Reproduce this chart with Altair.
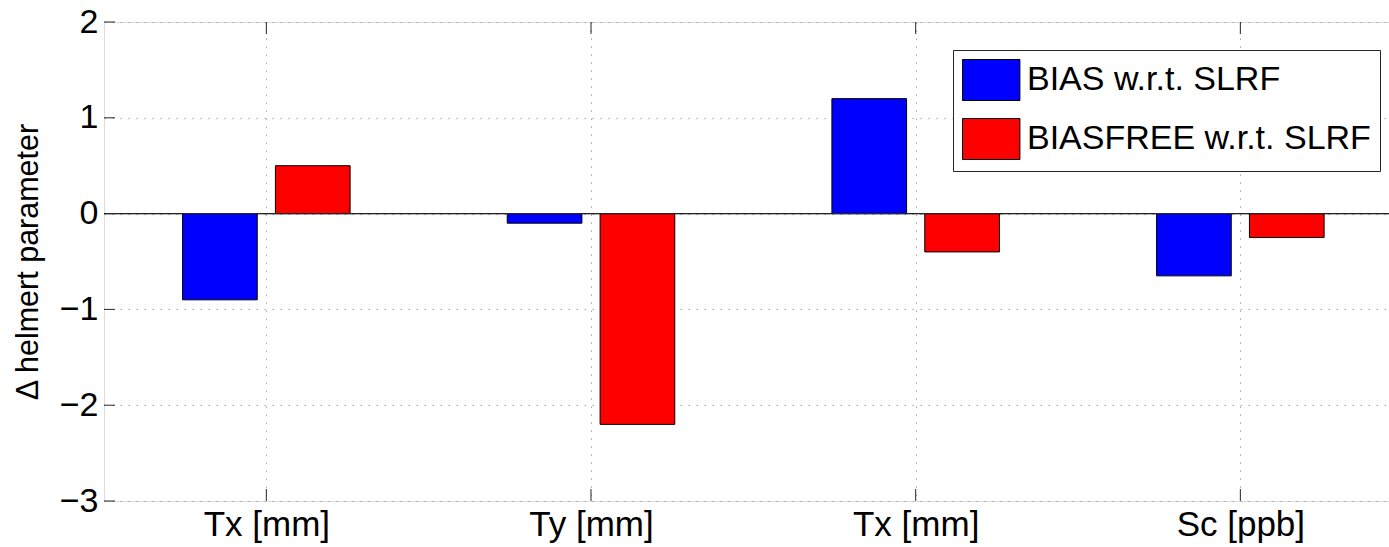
import json
import altair as alt
import pandas as pd

# ---- data ----
categories = ["Tx [mm]", "Ty [mm]", "Tx [mm]", "Sc [ppb]"]
series_names = ["BIAS w.r.t. SLRF", "BIASFREE w.r.t. SLRF"]
bias_values = [-0.9, -0.1, 1.2, -0.65]
biasfree_values = [0.5, -2.2, -0.4, -0.25]
y_tick_values = [-3, -2, -1, 0, 1, 2]
series_colors = ["#0000ff", "#ff0000"]

# ---- layout / style constants ----
W, H = 1285, 479
PAD_L, PAD_T = 104, 22
GROUP_OFFSET = 0.143
HALF_BAR = 0.115
FONT = "Liberation Sans"
LINE = "#262626"
GRID = "#a8a8a8"
DASH = [1.5, 6.5]

positions = list(range(1, len(categories) + 1))
rows = []
for pos, b, f in zip(positions, bias_values, biasfree_values):
    for k, (name, v) in enumerate(zip(series_names, (b, f))):
        center = pos + (-GROUP_OFFSET if k == 0 else GROUP_OFFSET)
        rows.append({"pos": pos, "series": name, "value": v, "base": 0.0,
                     "x0": center - HALF_BAR, "x1": center + HALF_BAR})
bars_df = pd.DataFrame(rows)
yticks_df = pd.DataFrame({"t": y_tick_values})
xticks_df = pd.DataFrame({"pos": positions})

x_scale = alt.Scale(domain=[0.5, 0.5 + W / 324.67], nice=False, zero=False)
y_scale = alt.Scale(domain=[-3, 2], nice=False, zero=False)

label_expr = json.dumps([""] + categories) + "[datum.value]"

x_axis = alt.Axis(values=positions, labelExpr=label_expr, title=None,
                  grid=True, gridColor=GRID, gridDash=DASH, gridWidth=1,
                  ticks=False, tickSize=0, domain=False,
                  labelFontSize=35, labelPadding=6, labelColor="black",
                  labelFont=FONT, labelLimit=0)
y_axis = alt.Axis(values=y_tick_values, format="d", title="Δ helmert parameter",
                  grid=True, gridColor=GRID, gridDash=DASH, gridWidth=1,
                  ticks=False, tickSize=0, domain=False,
                  labelFontSize=34, labelPadding=6, labelColor="black",
                  labelFont=FONT, titleFont=FONT, titleFontSize=30.5,
                  titleFontWeight="normal", titleColor="black",
                  titleAngle=270, titleX=-76, titleY=H / 2,
                  titleAlign="center", titleBaseline="middle")

legend = alt.Legend(orient="none", legendX=849, legendY=28, title=None,
                    symbolType="M-1,-1L1.8,-1L1.8,1L-1,1Z", symbolSize=1681,
                    symbolStrokeColor="black", symbolStrokeWidth=1,
                    symbolOpacity=1, labelFont=FONT, labelFontSize=34,
                    labelColor="black", labelOffset=23, labelLimit=0,
                    rowPadding=13, padding=9, fillColor="white",
                    strokeColor=LINE)

bars = alt.Chart(bars_df).mark_rect(stroke="black", strokeWidth=1).encode(
    x=alt.X("x0:Q", scale=x_scale, axis=x_axis),
    x2="x1:Q",
    y=alt.Y("value:Q", scale=y_scale, axis=y_axis),
    y2="base:Q",
    color=alt.Color("series:N", scale=alt.Scale(domain=series_names, range=series_colors),
                    legend=legend),
)

zero_line = alt.Chart(xticks_df).mark_rule(color=LINE, strokeWidth=1).encode(
    y=alt.datum(0), x=alt.value(0), x2=alt.value(W)
)

y_ticks = alt.Chart(yticks_df).mark_rule(color=LINE, strokeWidth=1).encode(
    y="t:Q", x=alt.value(0), x2=alt.value(11)
)
x_ticks_bottom = alt.Chart(xticks_df).mark_rule(color=LINE, strokeWidth=1).encode(
    x="pos:Q", y=alt.value(H), y2=alt.value(H - 12)
)
x_ticks_top = alt.Chart(xticks_df).mark_rule(color=LINE, strokeWidth=1).encode(
    x="pos:Q", y=alt.value(0), y2=alt.value(12)
)

chart = alt.layer(bars, zero_line, y_ticks, x_ticks_bottom, x_ticks_top).properties(
    width=W, height=H,
    autosize=alt.AutoSizeParams(type="none"),
    padding={"left": PAD_L, "top": PAD_T, "right": 0, "bottom": 547 - PAD_T - H},
).configure_view(
    stroke=LINE, strokeWidth=1
).configure(background="white")

chart.save("out.html", embed_options={"renderer": "svg", "actions": False})
